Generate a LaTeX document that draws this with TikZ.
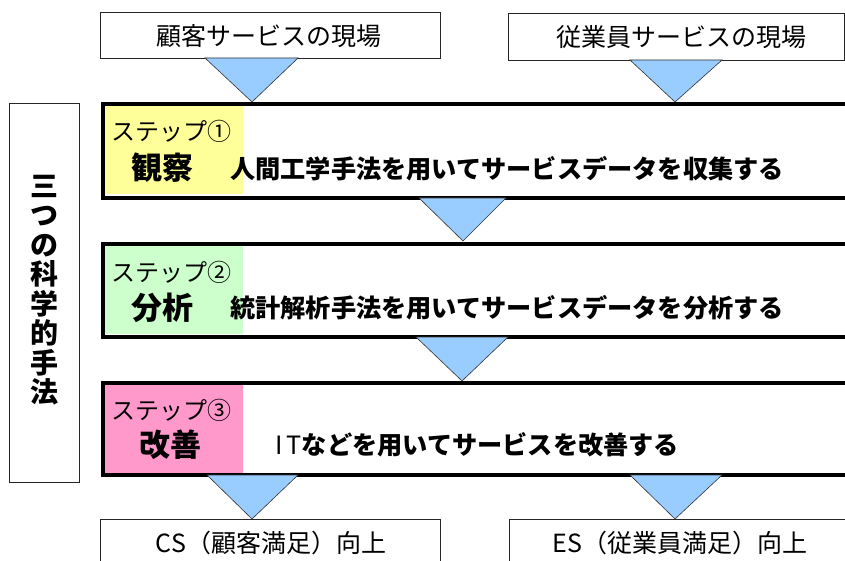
\documentclass[tikz,border=0pt]{standalone}
\usepackage{fontspec}
\newfontfamily\jp{Noto Sans CJK JP}
\definecolor{cyel}{HTML}{FFFF99}
\definecolor{cgrn}{HTML}{CCFFCC}
\definecolor{cpnk}{HTML}{FF99CC}
\definecolor{cblu}{HTML}{99CCFF}
\tikzset{
  thinbox/.style={draw=black!85, line width=0.8pt, fill=white, anchor=north west, inner sep=0pt},
  stepbox/.style={draw=black, line width=4pt, anchor=north west, inner sep=0pt},
  colbox/.style={anchor=north west, inner sep=0pt, draw=none},
  tri/.style={fill=cblu, draw=black!80, line width=0.6pt, line join=miter},
  hdrtxt/.style={font=\jp\fontsize{25}{30}\selectfont, inner sep=0pt},
  steplbl/.style={font=\jp\fontsize{24}{28}\selectfont, inner sep=0pt, anchor=west},
  stepname/.style={font=\jp\bfseries\fontsize{31}{36}\selectfont, inner sep=0pt},
  desc/.style={font=\jp\bfseries\fontsize{25.2}{30}\selectfont, inner sep=0pt, anchor=west},
}
\begin{document}
\begin{tikzpicture}[x=1pt,y=-1pt]
\clip (0,0) rectangle (845,561);
\fill[white] (0,0) rectangle (845,561);

% header boxes
\node[thinbox, minimum width=340pt, minimum height=46pt] (h1) at (100,12) {};
\node[hdrtxt] (h1t) at (269,36) {顧客サービスの現場};
\node[thinbox, minimum width=336pt, minimum height=47pt] (h2) at (508,13) {};
\node[hdrtxt] (h2t) at (681,37) {従業員サービスの現場};

% left box
\node[thinbox, minimum width=70pt, minimum height=379pt] (lb) at (9,103) {};
\node[font=\jp\bfseries\fontsize{28}{29.5}\selectfont, align=center, inner sep=0pt] (lbt) at (44,290)
  {三\\つ\\の\\科\\学\\的\\手\\法};

% step 1
\node[colbox, fill=cyel, minimum width=141pt, minimum height=91pt] (c1) at (102,103) {};
\node[stepbox, minimum width=800pt, minimum height=94pt] (s1) at (101,102) {};
\node[steplbl] (l1) at (111,131) {ステップ①};
\node[stepname] (n1) at (162,168) {観察};
\node[desc] (d1) at (230,169) {人間工学手法を用いてサービスデータを収集する};

% step 2
\node[colbox, fill=cgrn, minimum width=141pt, minimum height=91pt] (c2) at (102,243) {};
\node[stepbox, minimum width=800pt, minimum height=93pt] (s2) at (101,242) {};
\node[steplbl] (l2) at (111,272) {ステップ②};
\node[stepname] (n2) at (162,308) {分析};
\node[desc] (d2) at (230,308) {統計解析手法を用いてサービスデータを分析する};

% step 3
\node[colbox, fill=cpnk, minimum width=141pt, minimum height=91pt] (c3) at (102,382) {};
\node[stepbox, minimum width=800pt, minimum height=92pt] (s3) at (101,381) {};
\node[steplbl] (l3) at (111,410) {ステップ③};
\node[stepname] (n3) at (170,445) {改善};
\node[desc] (d3) at (275,445) {{\mdseries I\,T}などを用いてサービスを改善する};

% bottom boxes
\node[thinbox, minimum width=340pt, minimum height=80pt] (b1) at (100,519) {};
\node[hdrtxt] (b1t) at (271,543) {CS（顧客満足）向上};
\node[thinbox, minimum width=400pt, minimum height=80pt] (b2) at (509,519) {};
\node[hdrtxt] (b2t) at (680,543) {ES（従業員満足）向上};

% triangles (flow arrows)
\coordinate (a1) at (252,102);
\coordinate (a2) at (675,102);
\coordinate (a3) at (463,241);
\coordinate (a4) at (462,381);
\coordinate (a5) at (252,519);
\coordinate (a6) at (675,519);
\draw[tri] (205,58) -- (298,58) -- (a1) -- cycle;
\draw[tri] (630,60) -- (722,60) -- (a2) -- cycle;
\draw[tri] (419,198) -- (506,198) -- (a3) -- cycle;
\draw[tri] (416,337) -- (508,337) -- (a4) -- cycle;
\draw[tri] (207,475) -- (298,475) -- (a5) -- cycle;
\draw[tri] (630,475) -- (722,475) -- (a6) -- cycle;
\end{tikzpicture}
\end{document}
